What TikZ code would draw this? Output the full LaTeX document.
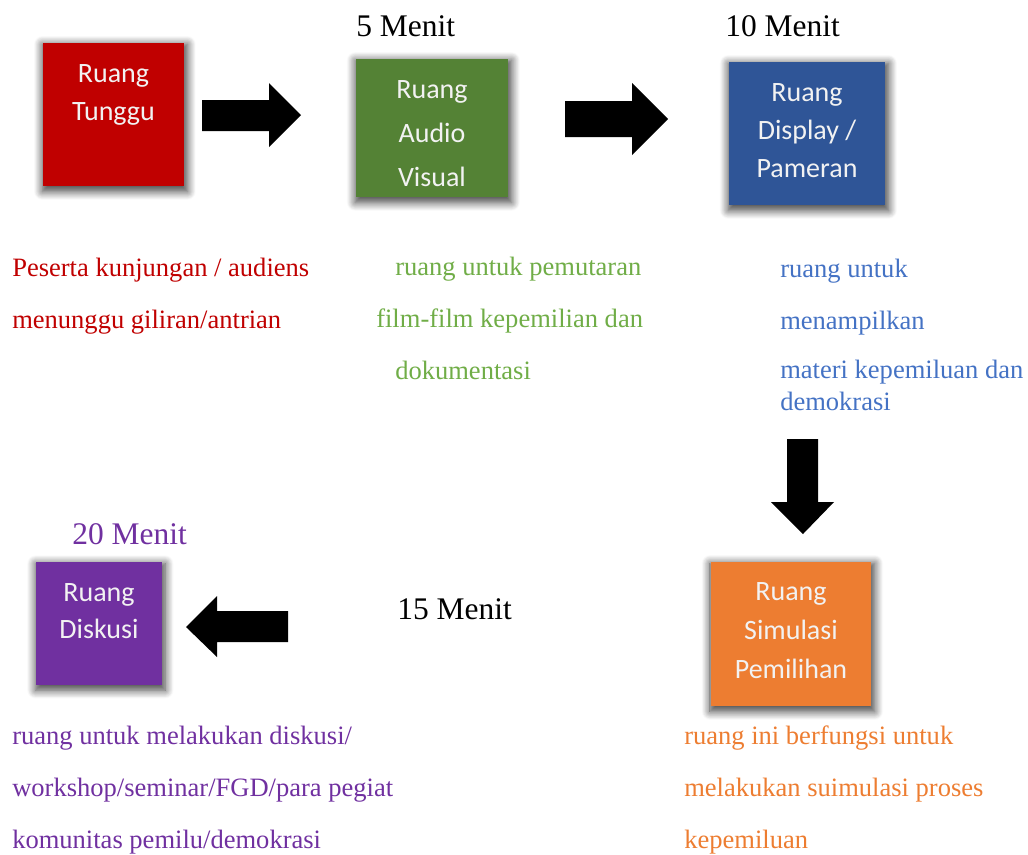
\documentclass[tikz,border=0pt]{standalone}
\usepackage{fontspec}
\setmainfont{Liberation Serif}
\newfontfamily\calfont{Carlito}
\usetikzlibrary{shadows.blur}
\definecolor{cred}{HTML}{C00000}
\definecolor{cgreenbox}{HTML}{548235}
\definecolor{cgreen}{HTML}{70AD47}
\definecolor{cbluebox}{HTML}{2F5597}
\definecolor{cblue}{HTML}{4472C4}
\definecolor{corange}{HTML}{ED7D31}
\definecolor{cpurple}{HTML}{7030A0}
\definecolor{boxtxt}{HTML}{F2F2F2}
\begin{document}
\begin{tikzpicture}[x=0.75pt,y=-0.75pt,
  roombox/.style={draw=none,inner sep=0pt,
    blur shadow={shadow xshift=1pt,shadow yshift=-2.5pt,shadow scale=1.03,shadow blur radius=6pt,shadow blur steps=10,shadow opacity=75}},
  boxtext/.style={anchor=base,align=center,inner sep=0pt,text=boxtxt,
    font=\calfont\fontsize{21}{28.5}\selectfont},
  desc/.style={anchor=base west,align=left,inner sep=0pt,
    font=\fontsize{19.9}{39}\selectfont},
  timelabel/.style={anchor=base west,inner sep=0pt,
    font=\fontsize{23.6}{28}\selectfont},
  blockarrow/.style={fill=black,draw=none}]
\useasboundingbox (0,0) rectangle (1028,854);
% boxes
\node[roombox,fill=cred,minimum width=141*0.75pt,minimum height=143*0.75pt] (tunggu) at (113.5,114.5) {};
\node[roombox,fill=cgreenbox,minimum width=152*0.75pt,minimum height=138*0.75pt] (audio) at (432,128) {};
\node[roombox,fill=cbluebox,minimum width=156*0.75pt,minimum height=143*0.75pt] (display) at (807,133.5) {};
\node[roombox,fill=corange,minimum width=160*0.75pt,minimum height=144*0.75pt] (simulasi) at (791,634) {};
\node[roombox,fill=cpurple,minimum width=126*0.75pt,minimum height=123*0.75pt] (diskusi) at (99,623.5) {};
% box texts (anchor base = baseline of the last line)
\node[boxtext] (tunggu-t) at (113.5,120) {Ruang\\Tunggu};
\node[boxtext,font=\calfont\fontsize{21}{33}\selectfont] (audio-t) at (432,186) {Ruang\\Audio\\Visual};
\node[boxtext] (display-t) at (807,177) {Ruang\\Display /\\Pameran};
\node[boxtext,font=\calfont\fontsize{21}{29.25}\selectfont] (simulasi-t) at (791,678) {Ruang\\Simulasi\\Pemilihan};
\node[boxtext,font=\calfont\fontsize{21}{27.75}\selectfont] (diskusi-t) at (99,638) {Ruang\\Diskusi};
% time labels
\node[timelabel] (t5) at (356,36) {5 Menit};
\node[timelabel] (t10) at (725,36) {10 Menit};
\node[timelabel,text=cpurple] (t20) at (72,544) {20 Menit};
\node[timelabel] (t15) at (397,619) {15 Menit};
% descriptions (anchor base west = baseline of the last line)
\node[desc,text=cred] (d-tunggu) at (12,328) {Peserta kunjungan / audiens\\menunggu giliran/antrian};
\node[desc,text=cgreen] (d-audio) at (376,379) {\hspace*{14.25pt}ruang untuk pemutaran\\film-film kepemilian dan\\\hspace*{14.25pt}dokumentasi};
\node[desc,text=cblue] (d-display) at (780,410) {ruang untuk\\menampilkan\\[-2.25pt]materi kepemiluan dan\\[-15pt]demokrasi};
\node[desc,text=cpurple] (d-diskusi) at (12,848) {ruang untuk melakukan diskusi/\\workshop/seminar/FGD/para pegiat\\komunitas pemilu/demokrasi};
\node[desc,text=corange] (d-simulasi) at (684,848) {ruang ini berfungsi untuk\\melakukan suimulasi proses\\kepemiluan};
% block arrows
\fill[blockarrow] (202,100) -- (269,100) -- (269,83) -- (301,115) -- (269,147) -- (269,131) -- (202,131) -- cycle;
\fill[blockarrow] (565,101) -- (632,101) -- (632,83) -- (668,119) -- (632,155) -- (632,137) -- (565,137) -- cycle;
\fill[blockarrow] (787,439) -- (818,439) -- (818,502) -- (834,502) -- (803,534) -- (771,502) -- (787,502) -- cycle;
\fill[blockarrow] (288,611) -- (217,611) -- (217,596) -- (186,627) -- (217,657) -- (217,642) -- (288,642) -- cycle;
\end{tikzpicture}
\end{document}
